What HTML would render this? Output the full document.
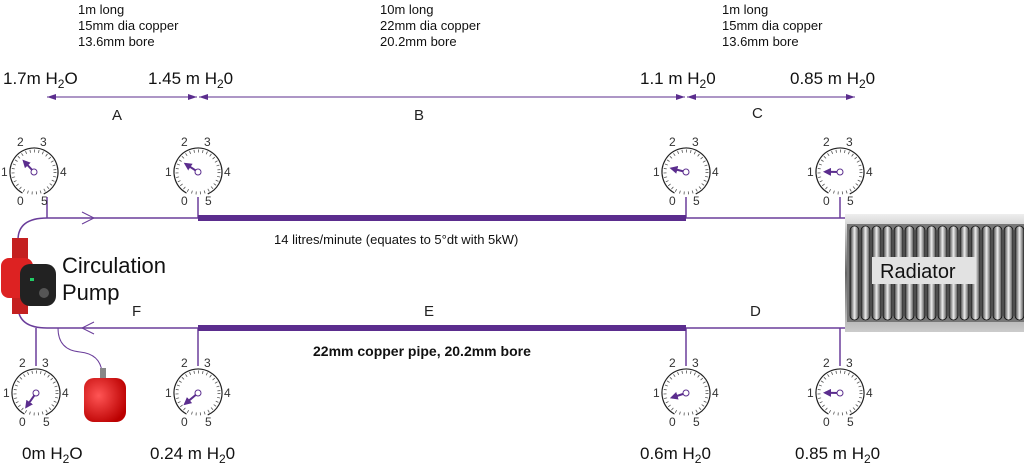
<!DOCTYPE html>
<html><head><meta charset="utf-8"><style>
body{margin:0;background:#fff;}
svg{display:block;font-family:"Liberation Sans",sans-serif;}
</style></head><body>
<svg width="1024" height="471" viewBox="0 0 1024 471" xmlns="http://www.w3.org/2000/svg">
<defs>
<marker id="ah" markerWidth="8" markerHeight="8" refX="6" refY="4" orient="auto" markerUnits="userSpaceOnUse"><path d="M0,0 L8,4 L0,8 z" fill="#5b2d8e"/></marker>
<marker id="da" markerWidth="10" markerHeight="8" refX="9" refY="4" orient="auto" markerUnits="userSpaceOnUse"><path d="M0,1 L9,4 L0,7 z" fill="#5b2d8e"/></marker>
<marker id="db" markerWidth="10" markerHeight="8" refX="1" refY="4" orient="auto" markerUnits="userSpaceOnUse"><path d="M10,1 L1,4 L10,7 z" fill="#5b2d8e"/></marker>
<linearGradient id="rg" x1="0" x2="1"><stop offset="0" stop-color="#333"/><stop offset=".5" stop-color="#eee"/><stop offset="1" stop-color="#444"/></linearGradient>
<linearGradient id="rb" x1="0" y1="0" x2="0" y2="1"><stop offset="0" stop-color="#eee"/><stop offset=".5" stop-color="#666"/><stop offset="1" stop-color="#ccc"/></linearGradient>
<radialGradient id="red" cx=".35" cy=".4" r=".7"><stop offset="0" stop-color="#f55"/><stop offset="1" stop-color="#b00"/></radialGradient>
</defs>
<g font-size="13" fill="#111">
<text x="78" y="14">1m long</text><text x="78" y="30">15mm dia copper</text><text x="78" y="46">13.6mm bore</text>
<text x="380" y="14">10m long</text><text x="380" y="30">22mm dia copper</text><text x="380" y="46">20.2mm bore</text>
<text x="722" y="14">1m long</text><text x="722" y="30">15mm dia copper</text><text x="722" y="46">13.6mm bore</text>
</g>
<g font-size="17" fill="#111">
<text x="3" y="84">1.7m H<tspan font-size="12" dy="4">2</tspan><tspan dy="-4">O</tspan></text>
<text x="148" y="84">1.45 m H<tspan font-size="12" dy="4">2</tspan><tspan dy="-4">0</tspan></text>
<text x="640" y="84">1.1 m H<tspan font-size="12" dy="4">2</tspan><tspan dy="-4">0</tspan></text>
<text x="790" y="84">0.85 m H<tspan font-size="12" dy="4">2</tspan><tspan dy="-4">0</tspan></text>
<text x="22" y="459">0m H<tspan font-size="12" dy="4">2</tspan><tspan dy="-4">O</tspan></text>
<text x="150" y="459">0.24 m H<tspan font-size="12" dy="4">2</tspan><tspan dy="-4">0</tspan></text>
<text x="640" y="459">0.6m H<tspan font-size="12" dy="4">2</tspan><tspan dy="-4">0</tspan></text>
<text x="795" y="459">0.85 m H<tspan font-size="12" dy="4">2</tspan><tspan dy="-4">0</tspan></text>
</g>
<g stroke="#5b2d8e" stroke-width="1" fill="none">
<line x1="47" y1="97" x2="197" y2="97" marker-start="url(#db)" marker-end="url(#da)"/>
<line x1="199" y1="97" x2="685" y2="97" marker-start="url(#db)" marker-end="url(#da)"/>
<line x1="687" y1="97" x2="855" y2="97" marker-start="url(#db)" marker-end="url(#da)"/>
</g>
<g font-size="15" fill="#222"><text x="112" y="120">A</text><text x="414" y="120">B</text><text x="752" y="118">C</text><text x="132" y="316">F</text><text x="424" y="316">E</text><text x="750" y="316">D</text></g>
<g stroke="#6a3d9a" fill="none" stroke-width="1.5">
<path d="M845,218 L47,218 Q18,218 18,240"/>
<path d="M845,328 L47,328 Q18,328 18,306"/>
<line x1="47" y1="197" x2="47" y2="218"/><line x1="198" y1="197" x2="198" y2="218"/>
<line x1="686" y1="197" x2="686" y2="218"/><line x1="840" y1="197" x2="840" y2="218"/>
<line x1="36" y1="328" x2="36" y2="366"/><line x1="198" y1="328" x2="198" y2="366"/>
<line x1="686" y1="328" x2="686" y2="366"/><line x1="840" y1="328" x2="840" y2="366"/>
<path d="M58,328 Q58,350 80,352 Q100,354 102,372" stroke-width="1"/>
<path d="M82,212 L94,218 L82,224" stroke-width="1"/>
<path d="M94,322 L82,328 L94,334" stroke-width="1"/>
</g>
<line x1="198" y1="218" x2="686" y2="218" stroke="#5b2d8e" stroke-width="6"/>
<line x1="198" y1="328" x2="686" y2="328" stroke="#5b2d8e" stroke-width="6"/>
<text x="274" y="244" font-size="13" fill="#111">14 litres/minute  (equates to 5°dt with 5kW)</text>
<text x="313" y="356" font-size="14" font-weight="bold" fill="#111">22mm copper pipe, 20.2mm bore</text>
<rect x="12" y="238" width="16" height="76" fill="#c42020"/>
<rect x="1" y="258" width="32" height="40" rx="8" fill="#d22"/>
<rect x="20" y="264" width="36" height="42" rx="10" fill="#222"/>
<circle cx="44" cy="293" r="5" fill="#555"/><rect x="30" y="278" width="4" height="3" fill="#2c6"/>
<text x="62" y="273" font-size="22" fill="#111">Circulation</text>
<text x="62" y="300" font-size="22" fill="#111">Pump</text>
<rect x="100" y="368" width="6" height="12" fill="#888"/>
<rect x="84" y="378" width="42" height="44" rx="10" fill="url(#red)"/>
<rect x="845" y="214" width="179" height="118" fill="url(#rb)"/>
<rect x="847" y="224" width="177" height="98" fill="#777"/>
<g fill="url(#rg)" stroke="#111" stroke-width=".8">
<rect x="850" y="226" width="9" height="94" rx="4.5"/><rect x="861" y="226" width="9" height="94" rx="4.5"/><rect x="872" y="226" width="9" height="94" rx="4.5"/><rect x="883" y="226" width="9" height="94" rx="4.5"/><rect x="894" y="226" width="9" height="94" rx="4.5"/><rect x="905" y="226" width="9" height="94" rx="4.5"/><rect x="916" y="226" width="9" height="94" rx="4.5"/><rect x="927" y="226" width="9" height="94" rx="4.5"/><rect x="938" y="226" width="9" height="94" rx="4.5"/><rect x="949" y="226" width="9" height="94" rx="4.5"/><rect x="960" y="226" width="9" height="94" rx="4.5"/><rect x="971" y="226" width="9" height="94" rx="4.5"/><rect x="982" y="226" width="9" height="94" rx="4.5"/><rect x="993" y="226" width="9" height="94" rx="4.5"/><rect x="1004" y="226" width="9" height="94" rx="4.5"/><rect x="1015" y="226" width="9" height="94" rx="4.5"/>
</g>
<rect x="872" y="257" width="104" height="27" fill="#e2e2e2"/>
<text x="880" y="278" font-size="20" fill="#111">Radiator</text>
<g font-size="12" fill="#333">
<g transform="translate(34,172)"><circle r="24" fill="#fff" stroke="#222" stroke-width="1.2" stroke-dasharray="128 22" transform="rotate(120)"/><circle r="21" fill="none" stroke="#555" stroke-width="3" stroke-dasharray="0.8 3.5"/><text x="-17" y="-26">2</text><text x="6" y="-26">3</text><text x="-33" y="4">1</text><text x="26" y="4">4</text><text x="-17" y="33">0</text><text x="7" y="33">5</text><g transform="rotate(-43)"><line x1="0" y1="0" x2="0" y2="-15" stroke="#5b2d8e" stroke-width="2" marker-end="url(#ah)"/></g><circle r="3" fill="#fff" stroke="#5b2d8e"/></g>
<g transform="translate(198,172)"><circle r="24" fill="#fff" stroke="#222" stroke-width="1.2" stroke-dasharray="128 22" transform="rotate(120)"/><circle r="21" fill="none" stroke="#555" stroke-width="3" stroke-dasharray="0.8 3.5"/><text x="-17" y="-26">2</text><text x="6" y="-26">3</text><text x="-33" y="4">1</text><text x="26" y="4">4</text><text x="-17" y="33">0</text><text x="7" y="33">5</text><g transform="rotate(-57)"><line x1="0" y1="0" x2="0" y2="-15" stroke="#5b2d8e" stroke-width="2" marker-end="url(#ah)"/></g><circle r="3" fill="#fff" stroke="#5b2d8e"/></g>
<g transform="translate(686,172)"><circle r="24" fill="#fff" stroke="#222" stroke-width="1.2" stroke-dasharray="128 22" transform="rotate(120)"/><circle r="21" fill="none" stroke="#555" stroke-width="3" stroke-dasharray="0.8 3.5"/><text x="-17" y="-26">2</text><text x="6" y="-26">3</text><text x="-33" y="4">1</text><text x="26" y="4">4</text><text x="-17" y="33">0</text><text x="7" y="33">5</text><g transform="rotate(-76)"><line x1="0" y1="0" x2="0" y2="-15" stroke="#5b2d8e" stroke-width="2" marker-end="url(#ah)"/></g><circle r="3" fill="#fff" stroke="#5b2d8e"/></g>
<g transform="translate(840,172)"><circle r="24" fill="#fff" stroke="#222" stroke-width="1.2" stroke-dasharray="128 22" transform="rotate(120)"/><circle r="21" fill="none" stroke="#555" stroke-width="3" stroke-dasharray="0.8 3.5"/><text x="-17" y="-26">2</text><text x="6" y="-26">3</text><text x="-33" y="4">1</text><text x="26" y="4">4</text><text x="-17" y="33">0</text><text x="7" y="33">5</text><g transform="rotate(-89)"><line x1="0" y1="0" x2="0" y2="-15" stroke="#5b2d8e" stroke-width="2" marker-end="url(#ah)"/></g><circle r="3" fill="#fff" stroke="#5b2d8e"/></g>
<g transform="translate(36,393)"><circle r="24" fill="#fff" stroke="#222" stroke-width="1.2" stroke-dasharray="128 22" transform="rotate(120)"/><circle r="21" fill="none" stroke="#555" stroke-width="3" stroke-dasharray="0.8 3.5"/><text x="-17" y="-26">2</text><text x="6" y="-26">3</text><text x="-33" y="4">1</text><text x="26" y="4">4</text><text x="-17" y="33">0</text><text x="7" y="33">5</text><g transform="rotate(-145)"><line x1="0" y1="0" x2="0" y2="-17" stroke="#5b2d8e" stroke-width="2" marker-end="url(#ah)"/></g><circle r="3" fill="#fff" stroke="#5b2d8e"/></g>
<g transform="translate(198,393)"><circle r="24" fill="#fff" stroke="#222" stroke-width="1.2" stroke-dasharray="128 22" transform="rotate(120)"/><circle r="21" fill="none" stroke="#555" stroke-width="3" stroke-dasharray="0.8 3.5"/><text x="-17" y="-26">2</text><text x="6" y="-26">3</text><text x="-33" y="4">1</text><text x="26" y="4">4</text><text x="-17" y="33">0</text><text x="7" y="33">5</text><g transform="rotate(-130)"><line x1="0" y1="0" x2="0" y2="-17" stroke="#5b2d8e" stroke-width="2" marker-end="url(#ah)"/></g><circle r="3" fill="#fff" stroke="#5b2d8e"/></g>
<g transform="translate(686,393)"><circle r="24" fill="#fff" stroke="#222" stroke-width="1.2" stroke-dasharray="128 22" transform="rotate(120)"/><circle r="21" fill="none" stroke="#555" stroke-width="3" stroke-dasharray="0.8 3.5"/><text x="-17" y="-26">2</text><text x="6" y="-26">3</text><text x="-33" y="4">1</text><text x="26" y="4">4</text><text x="-17" y="33">0</text><text x="7" y="33">5</text><g transform="rotate(-108)"><line x1="0" y1="0" x2="0" y2="-15" stroke="#5b2d8e" stroke-width="2" marker-end="url(#ah)"/></g><circle r="3" fill="#fff" stroke="#5b2d8e"/></g>
<g transform="translate(840,393)"><circle r="24" fill="#fff" stroke="#222" stroke-width="1.2" stroke-dasharray="128 22" transform="rotate(120)"/><circle r="21" fill="none" stroke="#555" stroke-width="3" stroke-dasharray="0.8 3.5"/><text x="-17" y="-26">2</text><text x="6" y="-26">3</text><text x="-33" y="4">1</text><text x="26" y="4">4</text><text x="-17" y="33">0</text><text x="7" y="33">5</text><g transform="rotate(-89)"><line x1="0" y1="0" x2="0" y2="-15" stroke="#5b2d8e" stroke-width="2" marker-end="url(#ah)"/></g><circle r="3" fill="#fff" stroke="#5b2d8e"/></g>
</g>
</svg>
</body></html>
